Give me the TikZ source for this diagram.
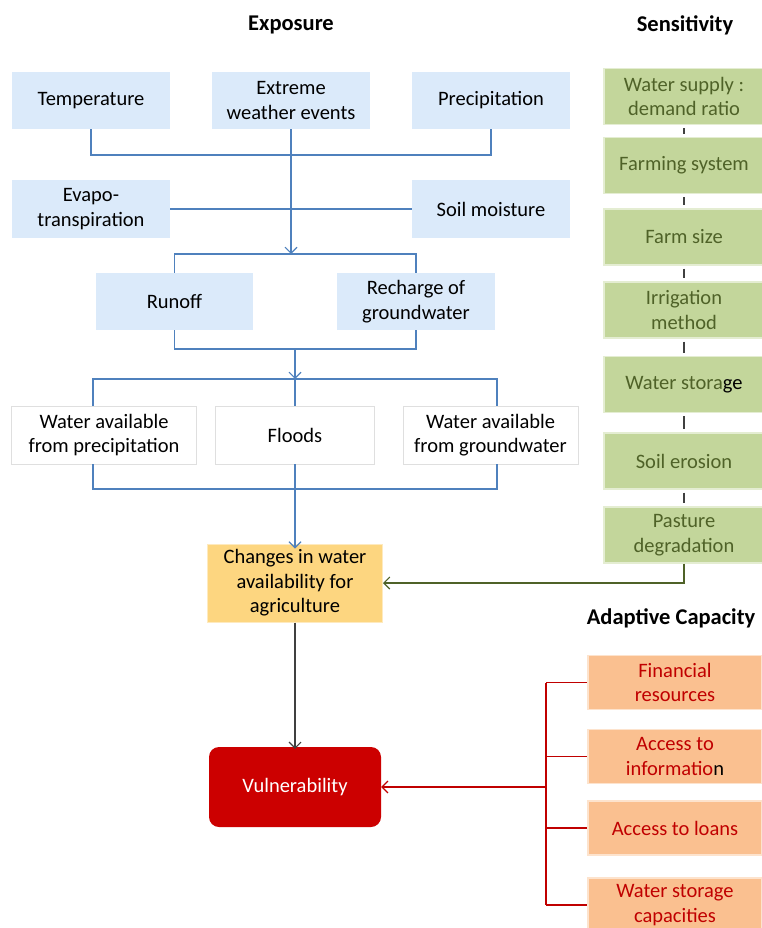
\documentclass[tikz,border=0pt]{standalone}
\usepackage{fontspec}
\setmainfont{Carlito}
\usepackage{xcolor}
\usetikzlibrary{arrows.meta}

\definecolor{expblue}{RGB}{219,234,250}
\definecolor{expline}{RGB}{79,129,189}
\definecolor{sensgreen}{RGB}{195,214,155}
\definecolor{senstext}{RGB}{79,98,40}
\definecolor{adaporange}{RGB}{250,192,144}
\definecolor{adapred}{RGB}{192,0,0}
\definecolor{chgyellow}{RGB}{253,214,128}
\definecolor{vulred}{RGB}{204,0,0}

\tikzset{
  box/.style={minimum width=158pt,minimum height=57pt,align=center,inner sep=2pt,
    font=\fontsize{20.5}{24.5}\selectfont},
  expbox/.style={box,fill=expblue},
  whitebox/.style={box,minimum height=58pt,fill=white,draw=gray!25},
  sensbox/.style={box,minimum width=160pt,minimum height=56pt,fill=sensgreen,
    draw=sensgreen!45!white,line width=1.2pt,text=senstext},
  adapbox/.style={box,minimum width=174pt,minimum height=54pt,fill=adaporange,
    draw=adaporange!45!white,line width=1.2pt,text=adapred},
  chgbox/.style={box,minimum width=175pt,minimum height=78pt,fill=chgyellow,
    draw=chgyellow!50!white,line width=1pt},
  vulbox/.style={box,minimum width=172pt,minimum height=80pt,fill=vulred,
    rounded corners=10pt,text=white},
  ttl/.style={font=\fontsize{22.5}{27}\selectfont\bfseries},
  bline/.style={expline,line width=1.1pt},
  tick/.style={gray!50!black,line width=1.1pt,shorten <=3pt,shorten >=3pt},
  gline/.style={senstext,line width=1.1pt},
  rline/.style={adapred,line width=1.1pt},
  kline/.style={black!75,line width=1.1pt}
}

\begin{document}
\begin{tikzpicture}[x=1pt,y=-1pt,>={Straight Barb[length=6pt,width=12pt]}]
\useasboundingbox (0,0) rectangle (762,928);

% titles
\node[ttl] (texp) at (291,25) {Exposure};
\node[ttl] (tsens) at (685,25) {Sensitivity};
\node[ttl] (tadap) at (671,618) {Adaptive Capacity};

% exposure
\node[expbox] (temp) at (91,100.5) {Temperature};
\node[expbox] (xtreme) at (291,100.5) {Extreme\\weather events};
\node[expbox] (precip) at (491,100.5) {Precipitation};
\node[expbox] (evap) at (91,209) {Evapo-\\transpiration};
\node[expbox] (soilm) at (491,209) {Soil moisture};
\node[expbox,minimum width=157pt] (runoff) at (174.5,301.5) {Runoff};
\node[expbox] (recharge) at (416,301.5) {Recharge of\\groundwater};
\node[whitebox,minimum width=185pt] (wprec) at (104,435) {Water available\\from precipitation};
\node[whitebox,minimum width=159pt] (floods) at (295,435) {Floods};
\node[whitebox,minimum width=175pt] (wgrnd) at (490.5,435) {Water available\\from groundwater};
\node[chgbox] (change) at (295,583) {Changes in water\\availability for\\agriculture};
\node[vulbox] (vuln) at (295,787) {Vulnerability};

\coordinate (j1) at (291,155);
\coordinate (j2) at (291,254);
\coordinate (j3) at (295,349);
\coordinate (j4) at (295,379);
\coordinate (j4l) at (93,379);
\coordinate (j4r) at (497,379);
\coordinate (j5l) at (93,489);
\coordinate (j5r) at (497,489);

\draw[bline] (temp.south) |- (j1) -| (precip.south);
\draw[bline,->] (xtreme.south) -- (j2);
\draw[bline] (evap.east) -- (soilm.west);
\draw[bline] (runoff.north) |- (j2) -| (recharge.north);
\draw[bline] (runoff.south) |- (j3) -| (recharge.south);
\draw[bline,->] (j3) -- (j4);
\draw[bline] (j4l |- wprec.north) -- (j4l) -- (j4r) -- (j4r |- wgrnd.north);
\draw[bline] (j4) -- (floods.north);
\draw[bline] (j5l |- wprec.south) -- (j5l) -- (j5r) -- (j5r |- wgrnd.south);
\draw[bline,->] (floods.south) -- ([yshift=-5pt]change.north);
\draw[kline,->] (change.south) -- ([yshift=-2pt]vuln.north);

% sensitivity
\foreach \n/\y/\t in {1/96.5/{Water supply :\\demand ratio},2/165.5/{Farming system},
  3/237/{Farm size},4/310/{Irrigation\\method},5/384.5/{Water stora\textcolor{black}{ge}},
  6/461/{Soil erosion},7/535/{Pasture\\degradation}}
  \node[sensbox] (s\n) at (684,\y) {\t};
\foreach \a/\b in {1/2,2/3,3/4,4/5,5/6,6/7}
  \draw[tick] (s\a.south) -- (s\b.north);
\draw[gline,->] (s7.south) |- (change.east);

% adaptive capacity
\foreach \n/\y/\t in {1/682.5/{Financial\\resources},2/756.5/{Access to\\informatio\textcolor{black}{n}},
  3/828/{Access to loans},4/905/{Water storage\\capacities}}
  \node[adapbox] (a\n) at (675,\y) {\t};
\coordinate (rj) at (546,790);
\draw[rline] (rj |- a1.west) -- (rj |- a4.west);
\foreach \n in {1,2,3,4}
  \draw[rline] (rj |- a\n.west) -- (a\n.west);
\draw[rline,->] (rj |- vuln.east) -- (vuln.east);
\end{tikzpicture}
\end{document}
